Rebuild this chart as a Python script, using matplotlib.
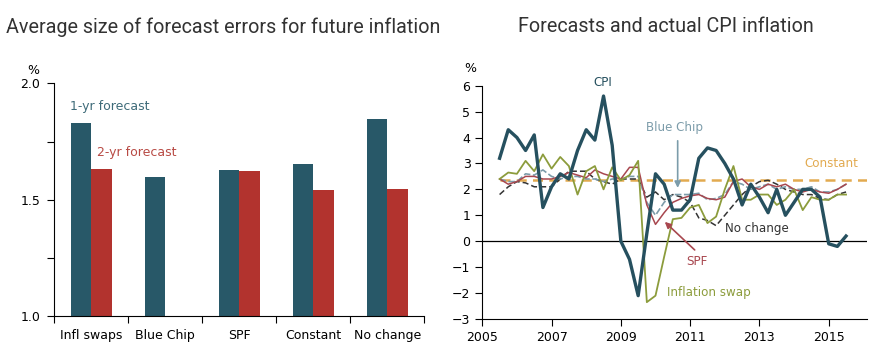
import numpy as np
import matplotlib
matplotlib.use('Agg')
import matplotlib.pyplot as plt

# left chart: average forecast error size
categories = ['Infl swaps', 'Blue Chip', 'SPF', 'Constant', 'No change']
err_1yr = [1.83, 1.598, 1.628, 1.654, 1.847]
err_2yr = [1.632, np.nan, 1.624, 1.542, 1.546]

# right chart: quarterly, 2005Q3 .. 2015Q3
dates = 2005.5 + 0.25 * np.arange(41)
cpi = [3.2, 4.3, 4.0, 3.5, 4.1, 1.3, 2.1, 2.6, 2.4, 3.5,
       4.3, 3.9, 5.6, 3.7, 0.0, -0.7, -2.1, 0.3, 2.6, 2.2,
       1.2, 1.2, 1.6, 3.2, 3.6, 3.5, 3.0, 2.4, 1.4, 2.2,
       1.7, 1.1, 2.0, 1.0, 1.5, 2.0, 2.0, 1.7, -0.1, -0.2, 0.2]
infl_swap = [2.4, 2.65, 2.6, 3.1, 2.7, 3.35, 2.8, 3.25, 2.9, 1.8,
             2.7, 2.9, 2.0, 2.85, 2.35, 2.55, 3.1, -2.35, -2.1, -0.6,
             0.85, 0.9, 1.3, 1.4, 0.7, 0.95, 2.0, 2.9, 1.6, 1.6,
             1.8, 1.8, 1.4, 1.6, 2.0, 1.2, 1.7, 1.6, 1.6, 1.8, 1.8]
spf = [2.4, 2.2, 2.3, 2.5, 2.5, 2.4, 2.4, 2.5, 2.65, 2.55,
       2.45, 2.75, 2.6, 2.5, 2.4, 2.85, 2.85, 1.4, 0.65, 1.1,
       1.5, 1.65, 1.75, 1.8, 1.65, 1.6, 1.7, 2.3, 2.4, 2.1,
       2.0, 2.2, 2.1, 2.2, 2.0, 1.9, 2.0, 1.9, 1.85, 2.0, 2.2]
blue_chip = [2.4, 2.3, 2.3, 2.6, 2.55, 2.75, 2.5, 2.4, 2.5, 2.5,
             2.4, 2.4, 2.3, 2.4, 2.4, 2.5, 2.5, 1.5, 1.0, 1.5,
             1.8, 1.8, 1.8, 1.85, 1.6, 1.65, 1.8, 2.3, 2.2, 2.0,
             2.1, 2.2, 2.0, 2.1, 2.0, 2.0, 2.1, 1.9, 1.9, 2.0, 2.2]
no_change = [1.8, 2.1, 2.3, 2.25, 2.1, 2.1, 2.1, 2.4, 2.7, 2.7,
             2.7, 2.4, 2.3, 2.2, 2.4, 2.4, 2.4, 1.7, 1.9, 1.6,
             1.8, 1.7, 1.5, 0.9, 0.8, 0.6, 1.0, 1.4, 1.8, 2.1,
             2.3, 2.35, 2.2, 2.0, 1.9, 1.8, 1.8, 1.65, 1.6, 1.8, 1.9]
constant = 2.35

c_1yr = '#285868'
c_2yr = '#b2332e'
c_cpi = '#26505f'
c_swap = '#8c9c3c'
c_spf = '#a8474f'
c_bc = '#7c9caa'
c_const = '#e2aa50'
c_text = '#333333'

plt.rcParams['font.family'] = 'DejaVu Sans'
plt.rcParams['font.size'] = 9

fig = plt.figure(figsize=(8.74, 3.59), dpi=100)

# ---- left chart ----
ax1 = fig.add_axes([0.0621, 0.119, 0.4234, 0.649])
x = np.arange(len(categories))
w = 0.28
ax1.bar(x - w / 2, err_1yr, w, bottom=0, color=c_1yr)
ax1.bar(x + w / 2, err_2yr, w, color=c_2yr)
ax1.set_ylim(1.0, 2.0)
ax1.set_xlim(-0.5, 4.5)
ax1.set_yticks([1.0, 1.25, 1.5, 1.75, 2.0])
ax1.set_yticklabels(['1.0', '', '1.5', '', '2.0'])
ax1.set_xticks(np.arange(-0.5, 5, 1))
ax1.set_xticklabels([])
ax1.set_xticks(x, minor=True)
ax1.set_xticklabels(categories, minor=True)
ax1.tick_params(axis='x', which='minor', length=0, pad=9)
ax1.tick_params(axis='x', which='major', length=5, direction='out')
ax1.tick_params(axis='y', length=5, direction='out', pad=5)
for s in ['top', 'right']:
    ax1.spines[s].set_visible(False)
ax1.text(-0.29, 1.90, '1-yr forecast', color='#3e6b79', fontsize=9, va='center')
ax1.text(0.075, 1.704, '2-yr forecast', color='#b84a44', fontsize=9, va='center')
fig.text(33 / 874, 1 - 70 / 359, '%', fontsize=9, ha='center', va='center')
fig.text(6 / 874, 1 - 27 / 359, 'Average size of forecast errors for future inflation',
         family='Roboto', fontsize=14.2, color=c_text, va='center')

# ---- right chart ----
ax2 = fig.add_axes([0.5518, 0.1114, 0.440, 0.650])
ax2.axhline(0, color='black', lw=0.9)
ax2.axhline(constant, xmin=(dates[0] - 2005) / 11.1, color=c_const, lw=1.8, ls=(0, (4, 2.5)))
ax2.plot(dates, no_change, color='#333333', lw=1.1, ls=(0, (4, 2)))
ax2.plot(dates, blue_chip, color=c_bc, lw=1.2, ls=(0, (4, 1.5)))
ax2.plot(dates, spf, color=c_spf, lw=1.1)
ax2.plot(dates, infl_swap, color=c_swap, lw=1.3)
ax2.plot(dates, cpi, color=c_cpi, lw=2.4)
ax2.set_xlim(2005, 2016.1)
ax2.set_ylim(-3, 6)
ax2.set_yticks(range(-3, 7))
ax2.set_xticks(range(2005, 2016, 2))
ax2.tick_params(length=5, direction='out')
for s in ['top', 'right']:
    ax2.spines[s].set_visible(False)

fs = 8.6
ax2.text(2008.48, 6.14, 'CPI', color=c_cpi, fontsize=fs, ha='center', va='center', clip_on=False)
ax2.text(2010.56, 4.37, 'Blue Chip', color=c_bc, fontsize=fs, ha='center', va='center')
ax2.annotate('', xy=(2010.64, 1.95), xytext=(2010.64, 3.98),
             arrowprops=dict(arrowstyle='-|>', color=c_bc, lw=1.2, mutation_scale=9))
ax2.text(2011.2, -0.8, 'SPF', color=c_spf, fontsize=fs, ha='center', va='center')
ax2.annotate('', xy=(2010.21, 0.82), xytext=(2011.19, -0.41),
             arrowprops=dict(arrowstyle='-|>', color=c_spf, lw=1.2, mutation_scale=9))
ax2.text(2015.08, 2.98, 'Constant', color=c_const, fontsize=fs, ha='center', va='center')
ax2.text(2012.92, 0.51, 'No change', color='#333333', fontsize=fs, ha='center', va='center')
ax2.text(2011.54, -1.96, 'Inflation swap', color=c_swap, fontsize=fs, ha='center', va='center')
fig.text(470 / 874, 1 - 69 / 359, '%', fontsize=9, ha='center', va='center')
fig.text(666 / 874, 1 - 27 / 359, 'Forecasts and actual CPI inflation',
         family='Roboto', fontsize=14.2, color=c_text, ha='center', va='center')

fig.savefig('out.png', dpi=100, facecolor='white')
